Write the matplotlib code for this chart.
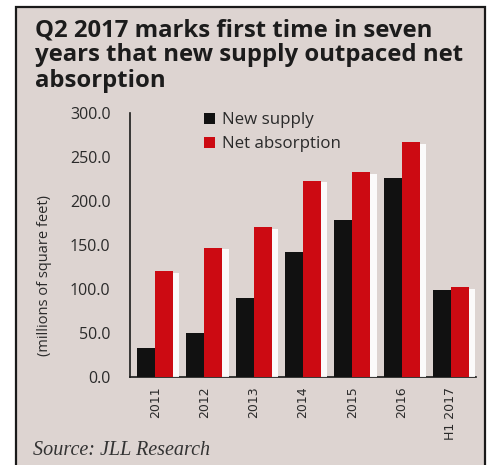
import numpy as np
import matplotlib
matplotlib.use("Agg")
import matplotlib.pyplot as plt
import matplotlib.patheffects as pe
from matplotlib.patches import Rectangle

years = ["2011", "2012", "2013", "2014", "2015", "2016", "H1 2017"]
new_supply = [33, 50, 90, 142, 178, 226, 99]
net_absorption = [120, 147, 170, 223, 233, 267, 102]
yticks = [0, 50, 100, 150, 200, 250, 300]

bg = "#ddd4d1"
red = "#cc0a12"
black = "#111111"
ink = "#2a2a2a"

W, H = 488, 465
fig = plt.figure(figsize=(W / 100, H / 100), dpi=100, facecolor="white")

# bordered panel
fig.patches.append(Rectangle((16 / W, -0.05), (485 - 16) / W, 1.05 - 7 / H,
                             transform=fig.transFigure, facecolor=bg,
                             edgecolor="#1a1a1a", linewidth=1.6, zorder=-5))

fig.text(35 / W, 1 - 18 / H,
         "Q2 2017 marks first time in seven\nyears that new supply outpaced net\nabsorption",
         ha="left", va="top", fontsize=17.2, fontweight="bold", family="Open Sans",
         color="#1c1c1c", linespacing=1.08)

ax = fig.add_axes([130 / W, 1 - 377 / H, (476 - 130) / W, (377 - 113) / H])
ax.set_facecolor("none")
x = np.arange(len(years))
w = 0.365
ax.bar(x - w / 2, new_supply, w, color=black, label="New supply", zorder=3)
rb = ax.bar(x + w / 2, net_absorption, w, color=red, label="Net absorption", zorder=3)

ax.set_xlim(-0.51, 6.51)
ax.set_ylim(0, 300)
ax.set_yticks(yticks)
ax.set_yticklabels([f"{v:.1f}" for v in yticks], family="Open Sans", fontsize=11.5, color=ink)
ax.set_xticks(x)
ax.set_xticklabels(years, rotation=90, family="DejaVu Sans", fontsize=9, color=ink)
ax.tick_params(length=0)
ax.tick_params(axis="y", pad=14)
ax.tick_params(axis="x", pad=7)
for s in ["top", "right"]:
    ax.spines[s].set_visible(False)
for s in ["left", "bottom"]:
    ax.spines[s].set_color("#1a1a1a")
    ax.spines[s].set_linewidth(1.2)

fig.text(45 / W, 1 - 275 / H, "(millions of square feet)", rotation=90, ha="center", va="center",
         family="Open Sans", fontsize=10.5, color=ink)

leg = fig.legend(loc="upper left", bbox_to_anchor=(196 / W, 1 - 104 / H), frameon=False,
                 prop={"family": "Open Sans", "size": 12.2}, handlelength=0.6,
                 handleheight=0.6, handletextpad=0.45, labelspacing=0.45, borderpad=0)
for t in leg.get_texts():
    t.set_color(ink)

# white glow on the right side of the red bars (bars only, not the legend key)
shadow = [pe.SimplePatchShadow(offset=(4.5, -1.2), shadow_rgbFace="white", alpha=0.9), pe.Normal()]
for p in rb:
    p.set_path_effects(shadow)

fig.text(33 / W, 1 - 450 / H, "Source: JLL Research", ha="left", va="center",
         fontsize=14.5, style="italic", family="Liberation Serif", color="#333333")

fig.savefig("out.png", dpi=100, facecolor="white")
